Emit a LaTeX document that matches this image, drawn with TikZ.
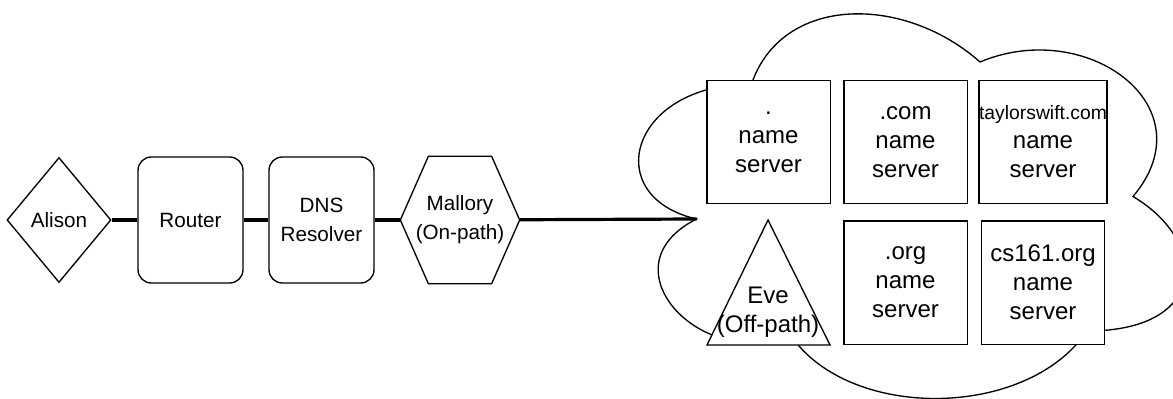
\documentclass[tikz,border=0pt]{standalone}
\usepackage{fontspec}
\setmainfont{Liberation Sans}
\usetikzlibrary{shapes.geometric}

\begin{document}
\begin{tikzpicture}[x=0.75pt, y=-0.75pt,
    host/.style={line width=1pt, inner sep=0pt, align=center, font=\fontsize{15.5}{21.75}\selectfont},
    hop/.style={host, draw, rectangle, rounded corners=10pt, minimum width=78.75pt, minimum height=94.5pt},
    nsbox/.style={draw, line width=1pt, fill=white, inner sep=0pt, minimum size=92.5pt, align=center, font=\fontsize{18}{21.75}\selectfont},
    wire/.style={line width=2.4pt}]
\useasboundingbox (0,0) rectangle (1173,399);

% the internet
\coordinate (notch) at (696.5,219);
\draw[line width=1pt] (751.5,84) .. controls (629.5,84) and (599,196.5) .. (notch)
    .. controls (599,268.5) and (709,376) .. (788,331)
    .. controls (843,421) and (1026,421) .. (1087,331)
    .. controls (1209,331) and (1209,241.5) .. (1133,196.5)
    .. controls (1209,106.5) and (1087,17) .. (980,62)
    .. controls (904,-5.5) and (782,-5.5) .. (751.5,84) -- cycle;

% path to the resolver
\node[host, draw, diamond, minimum width=78pt, minimum height=93.75pt] (alison) at (59,220) {Alison};
\node[hop] (router) at (190.5,220) {Router};
\node[hop] (resolver) at (321.5,220) {DNS\\Resolver};
\node[host, minimum width=88.5pt, minimum height=94.5pt] (mallory) at (460,220) {Mallory\\(On-path)};
\draw[line width=1pt] (mallory.west) -- ([xshift=21pt]mallory.north west) -- ([xshift=-21pt]mallory.north east)
    -- (mallory.east) -- ([xshift=-21pt]mallory.south east) -- ([xshift=21pt]mallory.south west) -- cycle;

\draw[wire] (alison) -- (router);
\draw[wire] (router) -- (resolver);
\draw[wire] (resolver) -- (mallory);
\draw[wire] (mallory) -- (notch);

% name servers
\node[nsbox] (root) at (768.5,142) {.\\name\\server};
\node[nsbox] (com) at (905.5,142) {.com\\name\\server};
\node[nsbox] (taylor) at (1043,142) {{\fontsize{14.5}{21.75}\selectfont taylorswift.com}\\name\\server};
\node[nsbox] (org) at (905.5,282.5) {.org\\name\\server};
\node[nsbox] (cs) at (1043,282.5) {cs161.org\\name\\server};

% off-path attacker
\draw[line width=1pt, fill=white] (707,345) -- (768,220) -- (830,345) -- cycle;
\node[host, font=\fontsize{18}{21.75}\selectfont] (eve) at (768,312) {Eve\\(Off-path)};
\end{tikzpicture}
\end{document}
